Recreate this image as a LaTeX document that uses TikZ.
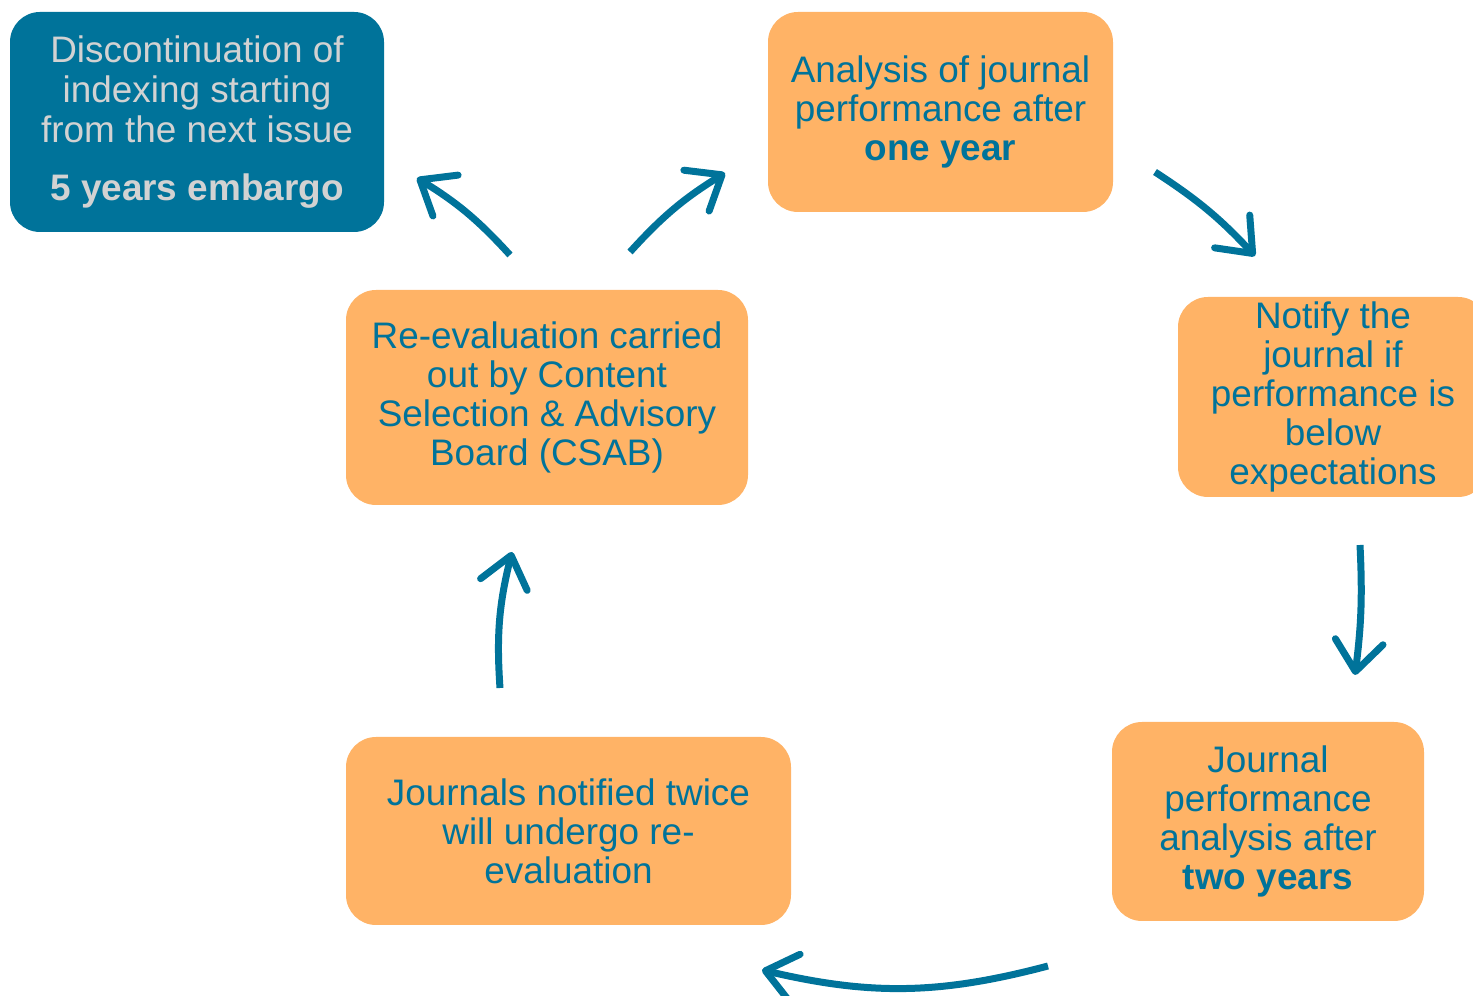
\documentclass[tikz,border=0pt]{standalone}
\usepackage{fontspec}
\setmainfont{Liberation Sans}
\usetikzlibrary{arrows.meta}
\definecolor{jteal}{HTML}{00739A}
\definecolor{jorange}{HTML}{FFB366}
\definecolor{jgrey}{HTML}{D2D2D2}
\begin{document}
\begin{tikzpicture}[x=0.1mm,y=-0.1mm,
    box/.style={rectangle, rounded corners=3mm, fill=jorange, text=jteal, align=center, inner sep=0pt,
        font=\fontsize{10.5}{11.1}\selectfont},
    flow/.style={-{Straight Barb[length=3mm,width=4.8mm,round]}, line width=0.7mm, draw=jteal}]
    \path[use as bounding box, clip] (0,0) rectangle (1473,996);
    % boxes, centre and size in px
    \node (stop) [box, fill=jteal, text=jgrey, minimum width=37.4mm, minimum height=22mm,
        font=\fontsize{10.5}{11.4}\selectfont] at (197,122)
        {Discontinuation of\\indexing starting\\from the next issue\\[1.7mm]\textbf{5 years embargo}};
    \node (oneyear) [box, minimum width=34.5mm, minimum height=20mm] at (940.5,112)
        {Analysis of journal\\performance after\\\textbf{one year}};
    \node (notify) [box, minimum width=31mm, minimum height=20mm] at (1333,397)
        {Notify the\\journal if\\performance is\\below\\expectations};
    \node (twoyears) [box, minimum width=31.2mm, minimum height=19.9mm] at (1268,821.5)
        {Journal\\performance\\analysis after\\\textbf{two years}};
    \node (twice) [box, minimum width=44.5mm, minimum height=18.8mm] at (568.5,831)
        {Journals notified twice\\will undergo re-\\evaluation};
    \node (csab) [box, minimum width=40.2mm, minimum height=21.5mm] at (547,397.5)
        {Re-evaluation carried\\out by Content\\Selection \& Advisory\\Board (CSAB)};
    % arrow ends
    \coordinate (a_1) at (510,255);   \coordinate (b_1) at (417,178);
    \coordinate (a_2) at (630,252);   \coordinate (b_2) at (725,173);
    \coordinate (a_3) at (1155,172);  \coordinate (b_3) at (1255,256);
    \coordinate (a_4) at (1360,545);  \coordinate (b_4) at (1355,675);
    \coordinate (a_5) at (1048,966);  \coordinate (b_5) at (762,970);
    \coordinate (a_6) at (500,688);   \coordinate (b_6) at (512,552);
    \draw[flow] (a_1) to[bend right=8] (b_1);
    \draw[flow] (a_2) to[bend left=8] (b_2);
    \draw[flow] (a_3) to[bend left=7] (b_3);
    \draw[flow] (a_4) to[bend left=5] (b_4);
    \draw[flow] (a_5) to[bend left=14] (b_5);
    \draw[flow] (a_6) to[bend left=9] (b_6);
\end{tikzpicture}
\end{document}
